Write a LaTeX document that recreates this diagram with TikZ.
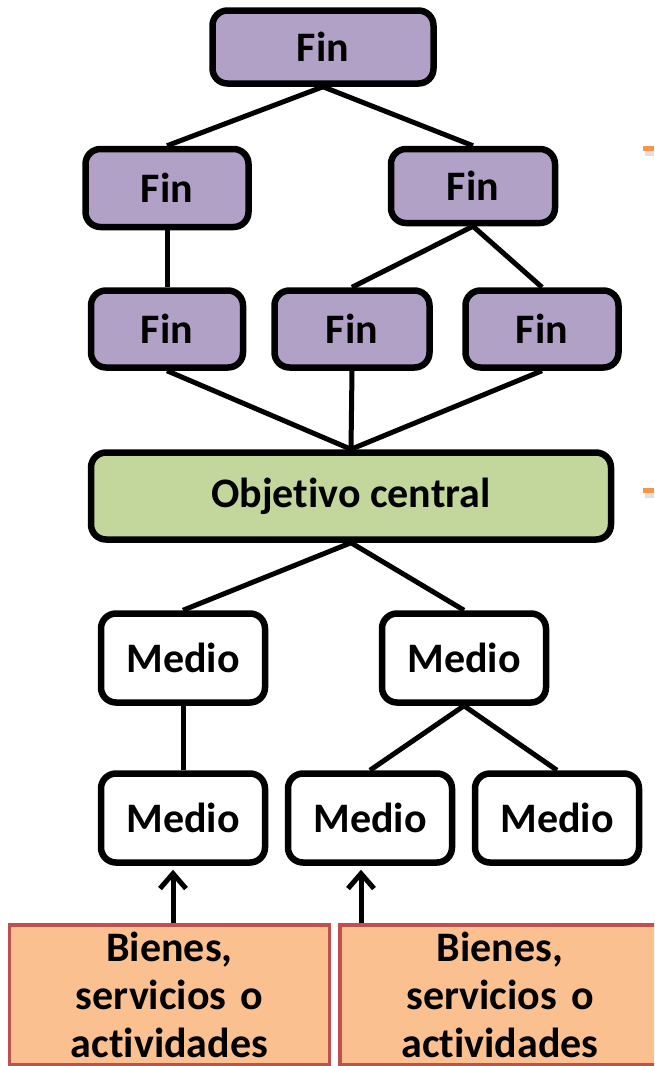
\documentclass[tikz,border=0pt]{standalone}
\usepackage{fontspec}
\setmainfont{Carlito}[Ligatures=CommonOff]
\usetikzlibrary{arrows.meta}
\definecolor{finfill}{HTML}{B2A1C7}
\definecolor{objfill}{HTML}{C3D69B}
\definecolor{bienfill}{HTML}{FAC090}
\definecolor{bienline}{HTML}{C0504D}
\definecolor{marca}{HTML}{F79646}
\begin{document}
\begin{tikzpicture}[x=1pt, y=-1pt,
	caja/.style={draw=black, line width=6.5pt, rounded corners=15pt, inner sep=0pt,
		font=\bfseries\fontsize{42}{48}\selectfont},
	fin/.style={caja, fill=finfill},
	medio/.style={caja, fill=white, minimum width=164pt, minimum height=89pt},
	bien/.style={draw=bienline, line width=3.5pt, fill=bienfill, inner sep=0pt, align=center,
		text width=320pt, minimum height=140pt, font=\bfseries\fontsize{42}{48}\selectfont},
	linea/.style={line width=5pt},
	flecha/.style={line width=5pt, {Straight Barb[length=15pt, width=26pt, line width=5pt]}-}]
			%%%%% START %%%%%
			\useasboundingbox (0, 0) rectangle (654, 1066);
			\clip (0, 0) rectangle (654, 1066);
			
			% fines
			\node[fin, minimum width=221pt, minimum height=73pt] (f0) at (323, 47) {Fin};
			\node[fin, minimum width=163pt, minimum height=78pt] (f1) at (167, 188) {Fin};
			\node[fin, minimum width=164pt, minimum height=74pt] (f2) at (473, 186) {Fin};
			\node[fin, minimum width=152pt, minimum height=77pt] (f11) at (167, 329) {Fin};
			\node[fin, minimum width=155pt, minimum height=77pt] (f21) at (352, 329) {Fin};
			\node[fin, minimum width=153pt, minimum height=77pt] (f22) at (542, 329) {Fin};
			
			% objetivo
			\node[caja, fill=objfill, minimum width=520pt, minimum height=87pt] (obj) at (351, 496) {Objetivo central};
			
			% medios
			\node[medio] (m1) at (183, 658) {Medio};
			\node[medio] (m2) at (464, 658) {Medio};
			\node[medio] (m11) at (183, 818) {Medio};
			\node[medio] (m21) at (370, 818) {Medio};
			\node[medio] (m22) at (557, 818) {Medio};
			
			% bienes
			\node[bien] (b1) at (169.5, 995) {Bienes,\\servicios o\\actividades};
			\node[bien] (b2) at (500, 995) {Bienes,\\servicios o\\actividades};
			
			\draw[linea] (f0.south) -- (f1.north);
			\draw[linea] (f0.south) -- (f2.north);
			\draw[linea] (f1.south) -- (f11.north);
			\draw[linea] (f2.south) -- (f21.north);
			\draw[linea] (f2.south) -- (f22.north);
			\draw[linea] (f11.south) -- (obj.north);
			\draw[linea] (f21.south) -- (obj.north);
			\draw[linea] (f22.south) -- (obj.north);
			
			\draw[linea] (obj.south) -- (m1.north);
			\draw[linea] (obj.south) -- (m2.north);
			\draw[linea] (m1.south) -- (m11.north);
			\draw[linea] (m2.south) -- (m21.north);
			\draw[linea] (m2.south) -- (m22.north);
			
			\draw[flecha] ([xshift=-10pt, yshift=-4pt]m11.south) -- ([xshift=-10pt]m11.south |- b1.north);
			\draw[flecha] ([xshift=-9pt, yshift=-4pt]m21.south) -- ([xshift=-9pt]m21.south |- b2.north);
			
			% marcas
			\fill[black!12] (645, 151) rectangle (654, 156);
			\fill[marca] (643, 146) rectangle (654, 151);
			\fill[black!12] (645, 493) rectangle (654, 498);
			\fill[marca] (643, 488) rectangle (654, 493);
			
			%%%%% END %%%%%
\end{tikzpicture}
\end{document}
